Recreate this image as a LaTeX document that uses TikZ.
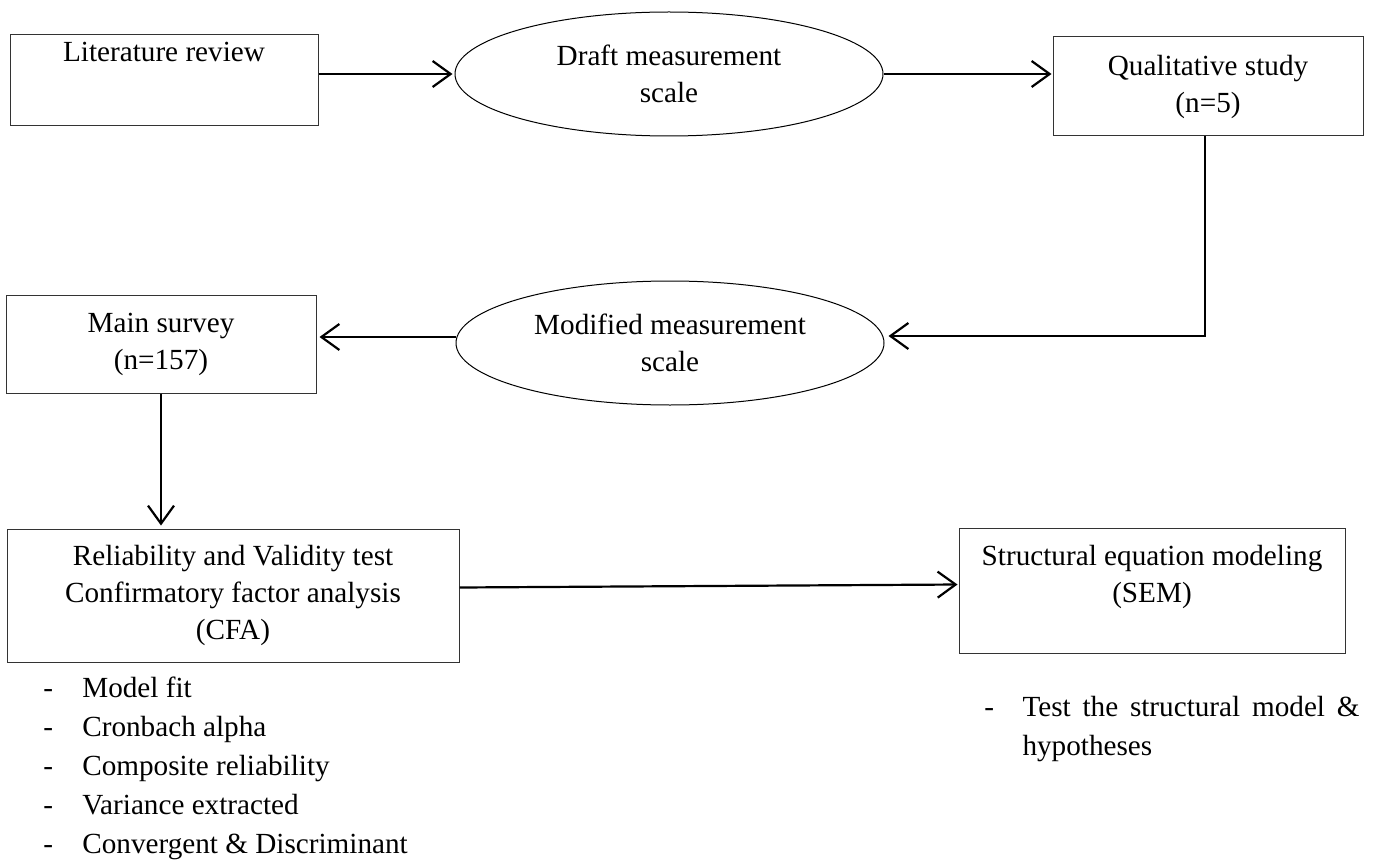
\documentclass[tikz,border=0pt]{standalone}
\usepackage{fontspec}
\setmainfont{Liberation Serif}
\usetikzlibrary{arrows.meta,shapes.geometric}
\begin{document}
\begin{tikzpicture}[x=0.5pt,y=-0.5pt,
  every node/.style={font=\fontsize{14.6pt}{18.5pt}\selectfont},
  boxnode/.style={draw=black!80, line width=0.5pt, rectangle, inner sep=0pt, align=center},
  ovalnode/.style={draw=black, line width=0.5pt, ellipse, inner sep=0pt, minimum width=214pt, minimum height=62pt, align=center},
  txt/.style={align=center, inner sep=0pt},
  listnode/.style={anchor=base west, inner sep=0pt, font=\fontsize{14.6pt}{19.5pt}\selectfont},
  arr/.style={line width=1.1pt, -{Straight Barb[length=9pt,width=13pt,line width=1.1pt]}}]
\useasboundingbox (0,0) rectangle (1379,861);

% nodes
\node[boxnode, minimum width=154pt, minimum height=45.5pt] (lit) at (164,80.5) {};
\node[anchor=base, inner sep=0pt] (littext) at (164,62) {Literature review};
\node[ovalnode] (draft) at (669,74) {Draft measurement\\scale};
\node[boxnode, minimum width=155pt, minimum height=49.5pt] (qual) at (1208,86.5) {Qualitative study\\(n=5)};
\node[ovalnode] (mod) at (670,343) {Modified measurement\\scale};
\node[boxnode, minimum width=155pt, minimum height=49pt] (main) at (161,344) {Main survey\\(n=157)};
\node[boxnode, minimum width=226pt, minimum height=66.5pt] (cfa) at (233,595.5) {Reliability and Validity test\\Confirmatory factor analysis\\(CFA)};
\node[boxnode, minimum width=193pt, minimum height=62.5pt] (sem) at (1152,590.5) {};
\node[txt] (semtext) at (1152,577) {Structural equation modeling\\(SEM)};

% connectors
\draw[arr, shorten >=1pt] (lit.east |- draft.west) -- (draft.west);
\draw[arr, shorten >=0.5pt] (draft.east) -- (draft.east -| qual.west);
\coordinate (bend) at (1205,336);
\draw[arr, shorten >=2pt] (bend |- qual.south) -- (bend) -- (bend -| mod.east);
\coordinate (ml) at ([yshift=3pt]mod.west);
\draw[arr, shorten >=1.5pt] (ml) -- (ml -| main.east);
\draw[arr, shorten >=1.5pt] (main.south) -- (main.south |- cfa.north);
\coordinate (cs) at ([yshift=4pt]cfa.east);
\coordinate (se) at ([yshift=3pt]sem.west);
\draw[arr, shorten >=0.5pt] (cs) -- (se);

% bullet lists
\node[listnode] (leftlist) at (43,697) {\begin{tabular}[t]{@{}l@{\hspace{14.6pt}}l@{}}
-&Model fit\\
-&Cronbach alpha\\
-&Composite reliability\\
-&Variance extracted\\
-&Convergent \& Discriminant
\end{tabular}};
\node[listnode] (rightlist) at (984,716) {\begin{tabular}[t]{@{}l@{\hspace{14.2pt}}p{168.5pt}@{}}
-&\hyphenpenalty=10000 Test the structural model \& hypotheses
\end{tabular}};
\end{tikzpicture}
\end{document}
